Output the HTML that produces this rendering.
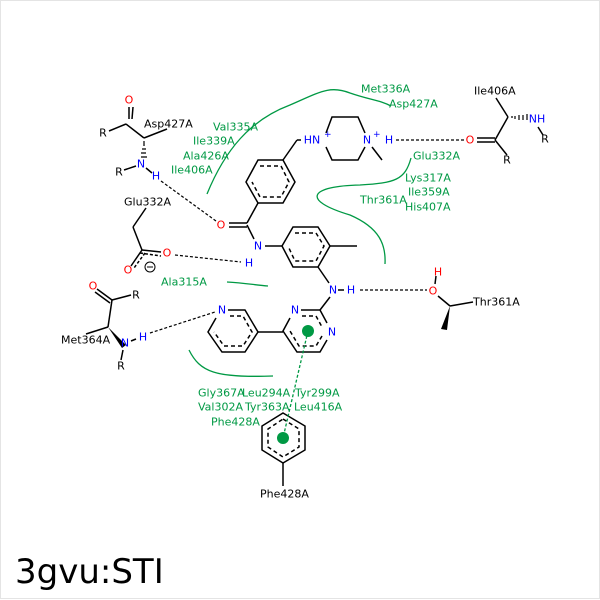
<!DOCTYPE html>
<html><head><meta charset="utf-8"><style>
html,body{margin:0;padding:0;background:#fff}
svg{display:block}
text{font-family:"DejaVu Sans","Liberation Sans",sans-serif;font-size:11px;dominant-baseline:central}
.g{fill:#009944}.b{fill:#000}.n{fill:#0000ff}.o{fill:#ff0000}
</style></head><body>
<svg width="600" height="600" viewBox="0 0 600 600" xmlns="http://www.w3.org/2000/svg">
<rect x="0.5" y="0.5" width="599" height="598" fill="#fff" stroke="#e4e4e4"/>
<g stroke="#000" stroke-width="1.5" fill="none">
<!-- top benzene -->
<polygon points="258,160 283,160 295,182 283,203 258,203 246,182"/>
<polyline points="260,166 281,166 289,182 281,197 260,197 252,182" stroke-dasharray="4,3"/>
<line x1="283" y1="160" x2="297" y2="140"/><line x1="297" y1="140" x2="301" y2="140"/>
<line x1="258" y1="203" x2="247" y2="223"/>
<line x1="247" y1="223" x2="229" y2="223"/><line x1="247" y1="227" x2="229" y2="227"/>
<line x1="247" y1="225" x2="254" y2="239"/>
<line x1="265" y1="246" x2="282" y2="246"/>
<!-- second ring -->
<polygon points="293,227 318,227 330,246 318,267 293,267 282,246"/>
<polyline points="295,233 316,233 324,246 316,261 295,261 288,246" stroke-dasharray="4,3"/>
<line x1="330" y1="246" x2="357" y2="246"/>
<line x1="318" y1="267" x2="329" y2="283"/>
<line x1="338" y1="290" x2="344" y2="290"/>
<line x1="330" y1="297" x2="320" y2="310"/>
<!-- pyrimidine -->
<polyline points="301,310 320,310 327,323"/>
<polyline points="327,340 320,352 297,352 283,331 290,318"/>
<polyline points="302,316 316,316 322,327" stroke-dasharray="4,3"/>
<polyline points="322,336 316,346 299,346 290,331" stroke-dasharray="4,3"/>
<line x1="258" y1="332" x2="283" y2="332"/>
<!-- pyridine -->
<polyline points="228,310 245,310 258,332 245,352 222,352 208,332 216,318"/>
<polyline points="230,316 243,316 252,332 243,346 224,346 214,332" stroke-dasharray="4,3"/>
<!-- Phe ring -->
<polygon points="283,413 305,426 305,450 283,463 262,450 262,426"/>
<polygon points="283,419 299,429 299,447 283,457 268,447 268,429" stroke-dasharray="4,3"/>
<line x1="283" y1="463" x2="283" y2="486"/>
<!-- piperazine -->
<polyline points="326,133 332,117 358,117 365,133"/>
<polyline points="365,147 358,160 332,160 326,147"/>
<line x1="372" y1="147" x2="382" y2="160"/>
<!-- Ile406A right -->
<line x1="477" y1="138" x2="495" y2="138"/><line x1="477" y1="142" x2="495" y2="142"/>
<line x1="495" y1="140" x2="507" y2="155"/>
<line x1="495" y1="140" x2="508" y2="117"/>
<line x1="508" y1="117" x2="496" y2="98"/>
<line x1="538" y1="127" x2="543" y2="135"/>
<!-- Asp427A left -->
<line x1="129" y1="107" x2="129" y2="119"/><line x1="133" y1="107" x2="132" y2="119"/>
<line x1="126" y1="124" x2="109" y2="131"/>
<line x1="126" y1="124" x2="144" y2="138"/>
<line x1="144" y1="138" x2="167" y2="129"/>
<line x1="124" y1="170" x2="136" y2="166"/>
<line x1="146" y1="168" x2="152" y2="173"/>
<!-- Glu332A -->
<line x1="146" y1="208" x2="133" y2="227"/>
<line x1="133" y1="227" x2="142" y2="250"/>
<line x1="142" y1="250" x2="161" y2="252"/>
<line x1="140" y1="253" x2="161" y2="256" stroke-dasharray="3,2"/>
<line x1="142" y1="250" x2="131" y2="266"/>
<line x1="145" y1="253" x2="134" y2="268" stroke-dasharray="3,2"/>
<!-- Met364A -->
<line x1="97" y1="289" x2="112" y2="300"/><line x1="95" y1="292" x2="110" y2="303"/>
<line x1="112" y1="300" x2="131" y2="295"/>
<line x1="112" y1="300" x2="108" y2="327"/>
<line x1="108" y1="327" x2="86" y2="334"/>
<line x1="123" y1="350" x2="121" y2="360"/>
<line x1="131" y1="341" x2="136" y2="339"/>
<!-- Thr361A -->
<line x1="436" y1="276" x2="435" y2="284"/>
<line x1="438" y1="296" x2="450" y2="306"/>
<line x1="450" y1="306" x2="473" y2="302"/>
</g>
<!-- wedges -->
<g fill="#000">
<polygon points="108,327 126,345 122,348"/>
<polygon points="450,306 447,330 441,329"/>
</g>
<g stroke="#000" stroke-width="1.2">
<path d="M144,141 v3 M143,145 h2 M142,149 h4 M141,153 h5 M141,157 h6" />
<path d="M511,117 h2 M515,116 v3 M519,115 v5 M523,115 v5 M527,114 v6"/>
</g>
<!-- H bonds -->
<g stroke="#000" stroke-width="1.2" stroke-dasharray="3,2" fill="none">
<line x1="161" y1="181" x2="216" y2="221"/>
<line x1="175" y1="255" x2="241" y2="262"/>
<line x1="150" y1="333" x2="215" y2="312"/>
<line x1="360" y1="290" x2="427" y2="290"/>
<line x1="396" y1="140" x2="464" y2="140"/>
</g>
<!-- green -->
<g stroke="#009944" stroke-width="1.3" fill="none">
<path d="M207,194 C225,150 250,120 290,105 C320,92 330,85 350,93 C370,100 380,100 391,106"/>
<path d="M411,158 C405,180 395,183 360,185 C310,186 300,200 350,215 C380,228 386,245 385,264"/>
<path d="M227,282 C245,283 255,285 268,286"/>
<path d="M189,350 C200,372 215,378 273,376"/>
<line x1="308" y1="331" x2="283" y2="438" stroke-dasharray="3,2"/>
</g>
<circle cx="308" cy="331" r="6" fill="#009944"/>
<circle cx="283" cy="438" r="6" fill="#009944"/>
<!-- atom labels -->
<g text-anchor="middle">
<text x="221" y="225" class="o">O</text>
<text x="258" y="246" class="n">N</text>
<text x="249" y="263" class="n">H</text>
<text x="333" y="290" class="n">N</text>
<text x="351" y="290" class="n">H</text>
<text x="295" y="310" class="n">N</text>
<text x="332" y="332" class="n">N</text>
<text x="222" y="310" class="n">N</text>
<text x="312" y="140" class="n">HN</text>
<text x="367" y="140" class="n">N</text>
<text x="389" y="140" class="n">H</text>
<text x="470" y="140" class="o">O</text>
<text x="507" y="160" class="b">R</text>
<text x="537" y="119" class="n">NH</text>
<text x="545" y="139" class="b">R</text>
<text x="129" y="100" class="o">O</text>
<text x="103" y="133" class="b">R</text>
<text x="141" y="164" class="n">N</text>
<text x="119" y="172" class="b">R</text>
<text x="156" y="176" class="n">H</text>
<text x="167" y="253" class="o">O</text>
<text x="128" y="270" class="o">O</text>
<text x="93" y="286" class="o">O</text>
<text x="136" y="295" class="b">R</text>
<text x="125" y="343" class="n">N</text>
<text x="143" y="337" class="n">H</text>
<text x="121" y="366" class="b">R</text>
<text x="433" y="291" class="o">O</text>
<text x="438" y="272" class="o">H</text>
</g>
<g font-size="8"><text x="324" y="135" class="n" style="font-size:9px">+</text><text x="373" y="135" class="n" style="font-size:9px">+</text></g>
<circle cx="150" cy="267" r="5" fill="none" stroke="#000" stroke-width="1"/>
<line x1="147" y1="267" x2="153" y2="267" stroke="#000" stroke-width="1"/>
<!-- residue labels black -->
<text x="144" y="124" class="b">Asp427A</text>
<text x="124" y="202" class="b">Glu332A</text>
<text x="61" y="340" class="b">Met364A</text>
<text x="473" y="302" class="b">Thr361A</text>
<text x="474" y="91" class="b">Ile406A</text>
<text x="260" y="494" class="b">Phe428A</text>
<!-- green labels -->
<g class="g">
<text x="361" y="89">Met336A</text>
<text x="389" y="104">Asp427A</text>
<text x="213" y="127">Val335A</text>
<text x="193" y="141">Ile339A</text>
<text x="183" y="156">Ala426A</text>
<text x="171" y="170">Ile406A</text>
<text x="413" y="156">Glu332A</text>
<text x="405" y="178">Lys317A</text>
<text x="408" y="192">Ile359A</text>
<text x="405" y="207">His407A</text>
<text x="360" y="200">Thr361A</text>
<text x="161" y="282">Ala315A</text>
<text x="198" y="393">Gly367A</text>
<text x="242" y="393">Leu294A</text>
<text x="295" y="393">Tyr299A</text>
<text x="198" y="407">Val302A</text>
<text x="245" y="407">Tyr363A</text>
<text x="294" y="407">Leu416A</text>
<text x="211" y="422">Phe428A</text>
</g>
<text x="15" y="572" style="font-size:34px;fill:#000">3gvu:STI</text>
</svg>
</body></html>
